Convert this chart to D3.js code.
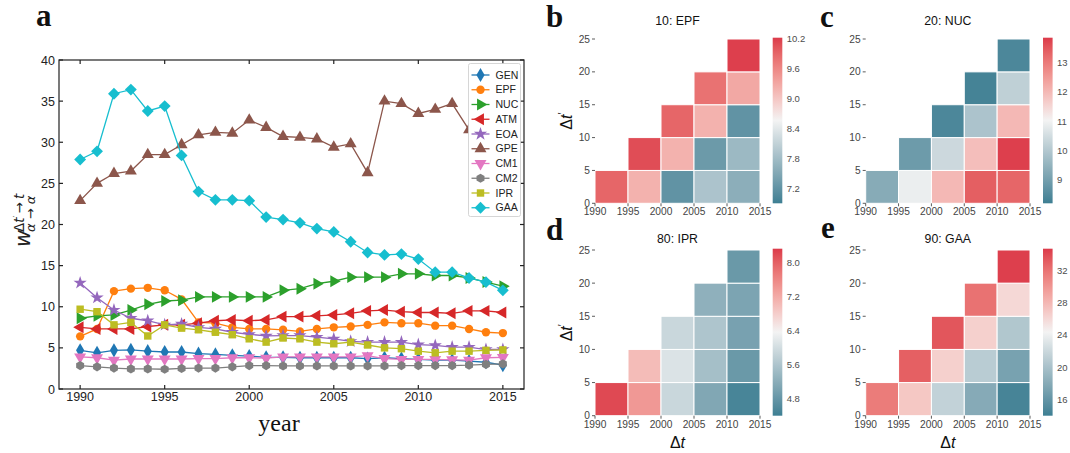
<!DOCTYPE html>
<html>
<head>
<meta charset="utf-8">
<script src="https://cdn.jsdelivr.net/npm/d3@7"></script>
<style>
  body { margin: 0; background: #fff; }
  svg { display: block; font-family: "Liberation Sans", Arial, sans-serif; }
</style>
</head>
<body>
<svg id="fig" width="1070" height="453"></svg>
<script>
// ---- data: panel a ----
const years = [1990, 1991, 1992, 1993, 1994, 1995, 1996, 1997, 1998, 1999, 2000, 2001, 2002,
  2003, 2004, 2005, 2006, 2007, 2008, 2009, 2010, 2011, 2012, 2013, 2014, 2015];
const yearTicks = [1990, 1995, 2000, 2005, 2010, 2015];
const valueTicks = [0, 5, 10, 15, 20, 25, 30, 35, 40];

const GEN = [4.7, 4.4, 4.7, 4.75, 4.6, 4.5, 4.5, 4.3, 4.2, 4.1, 4.0, 3.85, 3.85, 3.8, 3.8, 3.8, 3.8, 3.7, 3.8, 3.7, 3.6, 3.5, 3.5, 3.4, 3.25, 2.9];
const EPF = [6.4, 7.3, 11.9, 12.2, 12.3, 12.0, 10.9, 8.1, 8.0, 7.5, 7.3, 7.3, 7.2, 7.0, 7.3, 7.5, 7.6, 7.8, 8.1, 8.0, 8.0, 7.7, 7.7, 7.3, 6.9, 6.8];
const NUC = [8.6, 8.9, 9.0, 9.6, 10.3, 10.7, 10.8, 11.2, 11.2, 11.2, 11.2, 11.2, 12.0, 12.2, 12.8, 13.1, 13.6, 13.6, 13.6, 14.0, 14.0, 13.8, 13.8, 13.5, 13.0, 12.5];
const ATM = [7.5, 7.3, 7.3, 7.3, 7.6, 7.8, 7.8, 8.0, 8.3, 8.4, 8.3, 8.4, 8.8, 8.8, 8.9, 9.0, 9.2, 9.5, 9.6, 9.4, 9.3, 9.3, 9.2, 9.5, 9.5, 9.3];
const EOA = [12.9, 11.1, 9.6, 8.6, 8.3, 7.8, 7.9, 7.5, 7.3, 6.9, 6.65, 6.45, 6.5, 6.5, 6.3, 6.1, 5.8, 5.7, 5.7, 5.7, 5.4, 5.3, 5.1, 5.1, 4.8, 4.8];
const GPE = [22.9, 25.0, 26.2, 26.5, 28.5, 28.5, 29.7, 30.9, 31.2, 31.1, 32.7, 31.8, 30.7, 30.6, 30.4, 29.4, 29.8, 26.3, 35.0, 34.7, 33.5, 34.0, 34.7, 31.5, 30.8, 30.2];
const CM1 = [3.9, 3.8, 3.5, 3.65, 3.65, 3.65, 3.65, 3.7, 3.7, 3.8, 3.8, 3.75, 3.9, 3.9, 3.9, 3.9, 3.9, 4.05, 3.7, 3.6, 3.6, 3.6, 3.55, 3.5, 3.8, 3.85];
const CM2 = [2.85, 2.7, 2.55, 2.45, 2.45, 2.4, 2.5, 2.55, 2.55, 2.7, 2.85, 2.85, 2.8, 2.8, 2.8, 2.8, 2.8, 2.8, 2.8, 2.85, 2.85, 2.85, 2.85, 2.9, 3.0, 3.05];
const IPR = [9.7, 9.4, 7.8, 8.1, 6.45, 7.8, 7.4, 7.2, 6.9, 6.6, 6.1, 5.7, 6.2, 6.1, 5.7, 5.5, 5.7, 5.35, 5.0, 4.9, 4.6, 4.4, 4.6, 4.6, 4.7, 4.75];
const GAA = [27.9, 28.9, 35.9, 36.4, 33.8, 34.4, 28.4, 24.0, 23.0, 23.0, 22.9, 20.9, 20.6, 20.2, 19.5, 19.1, 17.9, 16.6, 16.3, 16.4, 15.8, 14.2, 14.2, 13.5, 13.0, 12.0];

const seriesNames = ["GEN", "EPF", "NUC", "ATM", "EOA", "GPE", "CM1", "CM2", "IPR", "GAA"];
const seriesValues = [GEN, EPF, NUC, ATM, EOA, GPE, CM1, CM2, IPR, GAA];
const seriesColors = ["#1f77b4", "#ff7f0e", "#2ca02c", "#d62728", "#9467bd",
  "#8c564b", "#e377c2", "#7f7f7f", "#bcbd22", "#17becf"];
const seriesMarkers = ["thin", "circle", "right", "left", "star", "up", "down", "hex", "square", "diamond"];

// ---- data: heatmaps (columns of cells, bottom row first) ----
const cellStarts = [1990, 1995, 2000, 2005, 2010];
const heatXTicks = [1990, 1995, 2000, 2005, 2010, 2015];
const heatYTicks = [0, 5, 10, 15, 20, 25];

const gridEPF = [[9.9], [9.2, 10.1], [7.2, 9.2, 9.9], [7.9, 7.3, 9.2, 9.8], [7.6, 7.75, 7.2, 9.3, 10.2]];
const gridNUC = [[9.3], [10.9, 8.9], [12.0, 10.4, 8.4], [13.4, 11.9, 9.9, 8.3], [13.3, 13.8, 12.0, 10.2, 8.4]];
const gridIPR = [[8.2], [7.4, 7.0], [5.9, 6.1, 5.9], [5.1, 5.5, 5.6, 5.25], [4.5, 4.85, 5.0, 5.05, 4.85]];
const gridGAA = [[31.5], [27.0, 33.0], [21.5, 26.5, 33.5], [18.0, 21.0, 26.5, 32.0], [14.5, 17.2, 20.5, 26.0, 34.5]];

const ticksEPF = [7.2, 7.8, 8.4, 9.0, 9.6, 10.2];
const ticksNUC = [9, 10, 11, 12, 13];
const ticksIPR = [4.8, 5.6, 6.4, 7.2, 8.0];
const ticksGAA = [16, 20, 24, 28, 32];

const svg = d3.select("#fig");
svg.append("rect").attr("width", 1070).attr("height", 453).attr("fill", "#fff");

// ---------- panel a ----------
const x = d3.scaleLinear().domain([1988.75, 2016.25]).range([59, 524]);
const y = d3.scaleLinear().domain([0, 40]).range([389, 60]);

function hexagon(size) {
  const r = Math.sqrt(size / (1.5 * Math.sqrt(3)));
  const p = d3.path();
  for (let i = 0; i < 6; i++) {
    const a = Math.PI / 3 * i - Math.PI / 2;
    if (i === 0) p.moveTo(r * Math.cos(a), r * Math.sin(a));
    else p.lineTo(r * Math.cos(a), r * Math.sin(a));
  }
  p.closePath();
  return p.toString();
}

function marker(kind) {
  switch (kind) {
    case "thin": return { d: d3.symbol(d3.symbolDiamond, 58)(), rot: 0 };
    case "circle": return { d: d3.symbol(d3.symbolCircle, 55)(), rot: 0 };
    case "right": return { d: d3.symbol(d3.symbolTriangle, 62)(), rot: 90 };
    case "left": return { d: d3.symbol(d3.symbolTriangle, 62)(), rot: -90 };
    case "up": return { d: d3.symbol(d3.symbolTriangle, 62)(), rot: 0 };
    case "down": return { d: d3.symbol(d3.symbolTriangle, 62)(), rot: 180 };
    case "star": return { d: d3.symbol(d3.symbolStar, 55)(), rot: 0 };
    case "hex": return { d: hexagon(55), rot: 0 };
    case "square": return { d: d3.symbol(d3.symbolSquare, 55)(), rot: 0 };
    case "diamond": return { d: d3.symbol(d3.symbolSquare, 70)(), rot: 45 };
  }
}

const plotA = svg.append("g");
const line = d3.line().x((d, i) => x(years[i])).y((d) => y(d));

seriesValues.forEach((vals, k) => {
  const g = plotA.append("g");
  g.append("path")
    .attr("d", line(vals))
    .attr("fill", "none")
    .attr("stroke", seriesColors[k])
    .attr("stroke-width", 1.3);
  const m = marker(seriesMarkers[k]);
  g.selectAll("path.mk")
    .data(vals)
    .enter()
    .append("path")
    .attr("class", "mk")
    .attr("d", m.d)
    .attr("transform", (d, i) => `translate(${x(years[i])},${y(d)}) rotate(${m.rot})`)
    .attr("fill", seriesColors[k]);
});

// frame + inward ticks on all sides
const frame = svg.append("g").attr("stroke", "#222").attr("stroke-width", 1.2);
frame.append("rect").attr("x", 59).attr("y", 60).attr("width", 465).attr("height", 329).attr("fill", "none");
yearTicks.forEach((t) => {
  frame.append("line").attr("x1", x(t)).attr("x2", x(t)).attr("y1", 389).attr("y2", 385);
  frame.append("line").attr("x1", x(t)).attr("x2", x(t)).attr("y1", 60).attr("y2", 64);
});
valueTicks.forEach((t) => {
  frame.append("line").attr("x1", 59).attr("x2", 63).attr("y1", y(t)).attr("y2", y(t));
  frame.append("line").attr("x1", 524).attr("x2", 520).attr("y1", y(t)).attr("y2", y(t));
});

svg.append("g").selectAll("text").data(yearTicks).enter().append("text")
  .attr("x", (d) => x(d)).attr("y", 401)
  .attr("text-anchor", "middle").attr("font-size", 12.5).attr("fill", "#222")
  .text((d) => d);
svg.append("g").selectAll("text").data(valueTicks).enter().append("text")
  .attr("x", 55).attr("y", (d) => y(d) + 4.5)
  .attr("text-anchor", "end").attr("font-size", 12.5).attr("fill", "#222")
  .text((d) => d);

// legend
const legend = svg.append("g").attr("transform", "translate(468.5,63.5)");
legend.append("rect").attr("width", 52).attr("height", 153).attr("rx", 2)
  .attr("fill", "#fff").attr("stroke", "#ccc").attr("stroke-width", 0.8);
seriesNames.forEach((name, k) => {
  const ly = 11.5 + k * 14.75;
  legend.append("line").attr("x1", 3).attr("x2", 21).attr("y1", ly).attr("y2", ly)
    .attr("stroke", seriesColors[k]).attr("stroke-width", 1.3);
  const m = marker(seriesMarkers[k]);
  legend.append("path").attr("d", m.d)
    .attr("transform", `translate(12,${ly}) rotate(${m.rot})`)
    .attr("fill", seriesColors[k]);
  legend.append("text").attr("x", 27).attr("y", ly + 3.7)
    .attr("font-size", 10.5).attr("fill", "#222").text(name);
});

// y label (math)
const yl = svg.append("g").attr("transform", "translate(30,247) rotate(-90)")
  .attr("font-family", "'DejaVu Sans', sans-serif").attr("fill", "#222");
yl.append("text").attr("x", 0).attr("y", 0).attr("font-size", 21).attr("font-style", "italic").text("w");
yl.append("text").attr("x", 15).attr("y", -6.5).attr("font-size", 13.5)
  .html('Δ<tspan font-style="italic">t</tspan><tspan dy="-4" font-size="9">′</tspan><tspan dy="4" dx="2">→</tspan><tspan dx="3" font-style="italic">t</tspan>');
yl.append("text").attr("x", 15).attr("y", 4.5).attr("font-size", 13)
  .attr("font-style", "italic").text("α → α");

svg.append("text").attr("x", 279).attr("y", 431)
  .attr("font-family", "'Liberation Serif', 'Times New Roman', serif")
  .attr("font-size", 24).attr("text-anchor", "middle").attr("fill", "#111").text("year");

// ---------- heatmaps ----------
const lowC = "#3d7f93", midC = "#f3f3f3", highC = "#dc3a4a";

function panelLabel(px, py, txt) {
  svg.append("text").attr("x", px).attr("y", py)
    .attr("font-family", "'Liberation Serif', 'Times New Roman', serif")
    .attr("font-weight", "bold").attr("font-size", 31).attr("fill", "#111").text(txt);
}

function heatmap(o) {
  const xs = d3.scaleLinear().domain([1990, 2015]).range([o.x0, o.x1]);
  const ys = d3.scaleLinear().domain([0, 25]).range([o.y0, o.y1]);
  const mid = (o.domain[0] + o.domain[1]) / 2;
  const color = d3.scaleLinear().domain([o.domain[0], mid, o.domain[1]])
    .range([lowC, midC, highC]).interpolate(d3.interpolateLab).clamp(true);

  const g = svg.append("g");
  o.grid.forEach((col, i) => {
    g.selectAll(null).data(col).enter().append("rect")
      .attr("x", xs(cellStarts[i]))
      .attr("width", xs(cellStarts[i] + 5) - xs(cellStarts[i]))
      .attr("y", (d, j) => ys(5 * (j + 1)))
      .attr("height", (d, j) => ys(5 * j) - ys(5 * (j + 1)))
      .attr("fill", (d) => color(d))
      .attr("stroke", "#fff").attr("stroke-width", 1);
  });

  // axes
  const ax = svg.append("g").attr("font-size", 10.2).attr("fill", "#444");
  heatXTicks.forEach((t) => {
    ax.append("line").attr("x1", xs(t)).attr("x2", xs(t)).attr("y1", o.y0).attr("y2", o.y0 + 3)
      .attr("stroke", "#333").attr("stroke-width", 0.8);
    ax.append("text").attr("x", xs(t)).attr("y", o.y0 + 12).attr("text-anchor", "middle").text(t);
  });
  heatYTicks.forEach((t) => {
    ax.append("line").attr("x1", o.x0 - 3).attr("x2", o.x0).attr("y1", ys(t)).attr("y2", ys(t))
      .attr("stroke", "#333").attr("stroke-width", 0.8);
    ax.append("text").attr("x", o.x0 - 5).attr("y", ys(t) + 3.6).attr("text-anchor", "end").text(t);
  });

  // title
  svg.append("text").attr("x", (o.x0 + o.x1) / 2).attr("y", o.titleY)
    .attr("text-anchor", "middle").attr("font-size", 12.3).attr("fill", "#111").text(o.title);

  // colorbar
  const gid = "grad" + o.title.replace(/\W/g, "");
  const grad = svg.append("defs").append("linearGradient").attr("id", gid)
    .attr("x1", 0).attr("y1", 1).attr("x2", 0).attr("y2", 0);
  d3.range(0, 1.0001, 0.05).forEach((t) => {
    grad.append("stop").attr("offset", t)
      .attr("stop-color", color(o.domain[0] + t * (o.domain[1] - o.domain[0])));
  });
  const cs = d3.scaleLinear().domain(o.domain).range([o.y0, o.y1 - 1.3]);
  svg.append("rect").attr("x", o.cbX).attr("y", o.y1 - 1.3).attr("width", 9.6)
    .attr("height", o.y0 - o.y1 + 1.3).attr("fill", `url(#${gid})`);
  svg.append("g").selectAll("text").data(o.ticks).enter().append("text")
    .attr("x", o.cbX + 14).attr("y", (d) => cs(d) + 3.3)
    .attr("font-size", 9.5).attr("fill", "#4d4d4d")
    .text((d) => d3.format(o.fmt)(d));

  if (o.yLabel) {
    svg.append("text")
      .attr("transform", `translate(${o.x0 - 23},${(o.y0 + o.y1) / 2}) rotate(-90)`)
      .attr("text-anchor", "middle").attr("font-size", 16).attr("fill", "#111")
      .html('Δ<tspan font-style="italic">t</tspan><tspan dy="-6" font-size="10">′</tspan>');
  }
  if (o.xLabel) {
    svg.append("text").attr("x", (o.x0 + o.x1) / 2).attr("y", o.y0 + 32)
      .attr("text-anchor", "middle").attr("font-size", 16).attr("fill", "#111")
      .html('Δ<tspan font-style="italic">t</tspan>');
  }
}

heatmap({ x0: 595, x1: 760, y0: 203.3, y1: 39, cbX: 772.7, grid: gridEPF, titleY: 24.5,
  domain: [6.9, 10.23], ticks: ticksEPF, fmt: ".1f", title: "10: EPF", yLabel: true });
heatmap({ x0: 865.7, x1: 1030, y0: 203.3, y1: 39, cbX: 1043, grid: gridNUC, titleY: 24.5,
  domain: [8.2, 13.85], ticks: ticksNUC, fmt: "d", title: "20: NUC" });
heatmap({ x0: 595, x1: 760, y0: 415.7, y1: 250, cbX: 772.7, grid: gridIPR, titleY: 243,
  domain: [4.4, 8.32], ticks: ticksIPR, fmt: ".1f", title: "80: IPR", yLabel: true, xLabel: true });
heatmap({ x0: 865.7, x1: 1030, y0: 415.7, y1: 250, cbX: 1043, grid: gridGAA, titleY: 243,
  domain: [14.0, 34.7], ticks: ticksGAA, fmt: "d", title: "90: GAA", xLabel: true });

panelLabel(36, 26, "a");
panelLabel(546, 27, "b");
panelLabel(820, 27, "c");
panelLabel(546, 240, "d");
panelLabel(821, 238, "e");
</script>
</body>
</html>
